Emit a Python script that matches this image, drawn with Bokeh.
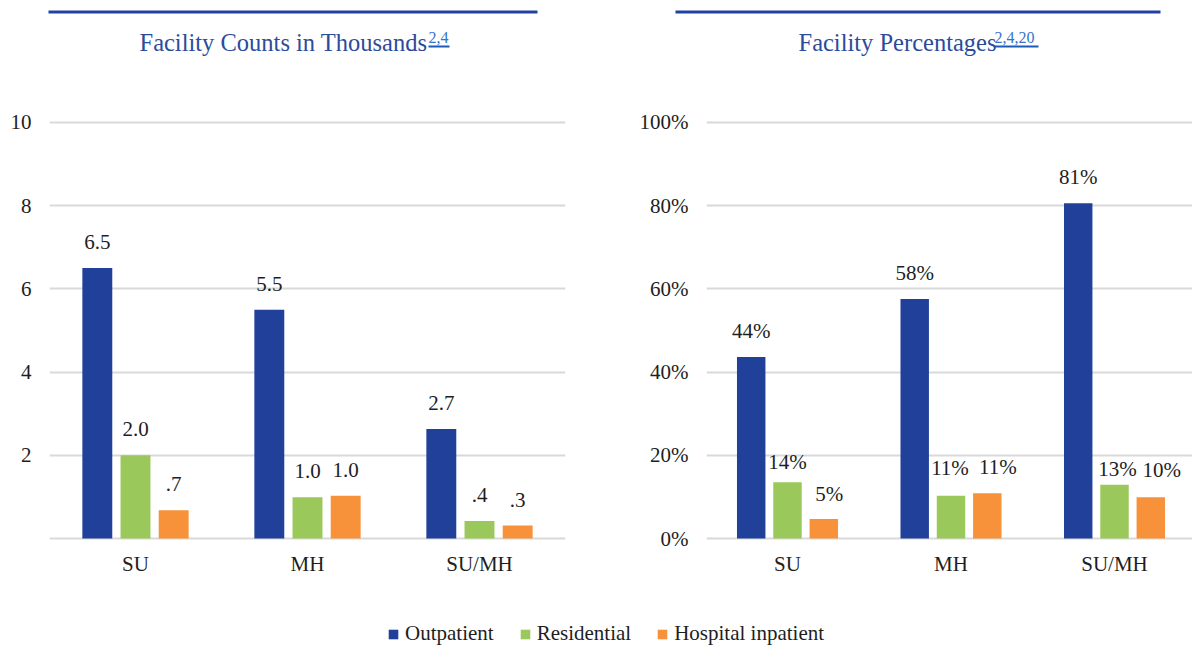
from bokeh.plotting import figure
from bokeh.models import ColumnDataSource, Range1d, FixedTicker, Label, BoxAnnotation
from bokeh.layouts import column, row
from bokeh.transform import dodge
from bokeh.core.properties import value
from bokeh.embed import file_html
from bokeh.resources import INLINE

# ---------------- data ----------------
categories = ["SU", "MH", "SU/MH"]
series_names = ["Outpatient", "Residential", "Hospital inpatient"]

count_outpatient = [6.5, 5.5, 2.63]
count_residential = [2.0, 0.99, 0.42]
count_hospital = [0.68, 1.03, 0.31]
count_labels_out = ["6.5", "5.5", "2.7"]
count_labels_res = ["2.0", "1.0", ".4"]
count_labels_hosp = [".7", "1.0", ".3"]

pct_outpatient = [43.6, 57.6, 80.6]
pct_residential = [13.5, 10.3, 12.9]
pct_hospital = [4.7, 10.9, 9.9]
pct_labels_out = ["44%", "58%", "81%"]
pct_labels_res = ["14%", "11%", "13%"]
pct_labels_hosp = ["5%", "11%", "10%"]

count_ticks = [0, 2, 4, 6, 8, 10]
count_tick_labels = ["", "2", "4", "6", "8", "10"]
pct_ticks = [0, 20, 40, 60, 80, 100]
pct_tick_labels = ["0%", "20%", "40%", "60%", "80%", "100%"]

titles = ["Facility Counts in Thousands", "Facility Percentages"]
title_refs = ["2,4", "2,4,20"]

# ---------------- styles ----------------
COLORS = ["#20409A", "#9BC85A", "#F7923A"]
FONT = "Liberation Serif"
TXT = "#1E1E1E"
TITLE_C = "#2B4B9B"
SUP_C = "#3573CC"
LINE_C = "#2142A0"
GRID_C = "#D9D9D9"
PITCH = 0.222
BAR_W = 0.174

# data-label offsets in pixels (y: negative = up from bar top; x: nudges)
G = -26
count_yoff = [[G] * 3, [G] * 3, [G] * 3]
count_xoff = [[0] * 3, [0] * 3, [0] * 3]
pct_yoff = [[G] * 3, [-20.5, -27.5, -16], [-25.2, -26.2, -27.5]]
pct_xoff = [[0] * 3, [0, -1, 3], [5.5, 10.5, 11]]


def make_chart(vals, labels, yoffs, xoffs, ticks, tick_labels, xr, yr, width, mbl, mbr):
    p = figure(width=width, height=550, x_range=xr, y_range=yr,
               output_backend="svg", toolbar_location=None,
               min_border_left=mbl, min_border_right=mbr,
               min_border_top=48, min_border_bottom=70,
               background_fill_color="white", border_fill_color="white",
               outline_line_color=None)
    idx = list(range(len(categories)))
    data = {"x": idx}
    for k in range(3):
        data[f"v{k}"] = vals[k]
        data[f"l{k}"] = labels[k]
        data[f"oy{k}"] = yoffs[k]
        data[f"ox{k}"] = xoffs[k]
    src = ColumnDataSource(data)
    for k in range(3):
        dx = (k - 1) * PITCH
        p.vbar(x=dodge("x", dx), top=f"v{k}", bottom=0, width=BAR_W, source=src,
               fill_color=COLORS[k], line_color=None)
        p.text(x=dodge("x", dx), y=f"v{k}", text=f"l{k}",
               x_offset=f"ox{k}", y_offset=f"oy{k}", source=src,
               text_align="center", text_baseline="alphabetic",
               text_font=value(FONT), text_font_size="21px", text_color=TXT)

    p.xgrid.visible = False
    p.ygrid.grid_line_color = GRID_C
    p.ygrid.grid_line_width = 2
    p.ygrid.ticker = FixedTicker(ticks=ticks)

    p.xaxis.ticker = FixedTicker(ticks=idx)
    p.xaxis.major_label_overrides = {i: c for i, c in zip(idx, categories)}
    p.yaxis.ticker = FixedTicker(ticks=ticks)
    p.yaxis.major_label_overrides = {t: l for t, l in zip(ticks, tick_labels)}
    for ax in (p.xaxis, p.yaxis):
        ax.axis_line_color = None
        ax.major_tick_line_color = None
        ax.minor_tick_line_color = None
        ax.major_tick_out = 0
        ax.major_tick_in = 0
        ax.major_label_text_font = FONT
        ax.major_label_text_font_size = "21px"
        ax.major_label_text_color = TXT
    p.xaxis.major_label_standoff = 9
    p.yaxis.major_label_standoff = 18
    return p, src


p1, src_counts = make_chart([count_outpatient, count_residential, count_hospital],
                            [count_labels_out, count_labels_res, count_labels_hosp],
                            count_yoff, count_xoff, count_ticks, count_tick_labels,
                            Range1d(-0.5, 2.5), Range1d(-0.096, 10.288), 612, 49, 47)

p2, src_pct = make_chart([pct_outpatient, pct_residential, pct_hospital],
                         [pct_labels_out, pct_labels_res, pct_labels_hosp],
                         pct_yoff, pct_xoff, pct_ticks, pct_tick_labels,
                         Range1d(-0.4954, 2.477), Range1d(-0.96, 102.88), 580, 94, 0)

# ---------------- header strip (rules + titles) ----------------
p0 = figure(width=1192, height=62, output_backend="svg", toolbar_location=None,
            x_axis_location=None, y_axis_location=None, min_border=0,
            outline_line_color=None, x_range=Range1d(0, 1), y_range=Range1d(0, 1),
            background_fill_color="white", border_fill_color="white")
p0.grid.visible = False


def box(l, r, b, t, color):
    return BoxAnnotation(left=l, right=r, bottom=b, top=t,
                         left_units="screen", right_units="screen",
                         bottom_units="screen", top_units="screen",
                         fill_color=color, fill_alpha=1, line_color=None)


header_geom = [
    # rule (left,right), title x, ref x, underline (left,right)
    ((48, 537), 139, 428, (428, 449)),
    ((675, 1160), 798, 994, (994, 1038)),
]
for (rule, tx, sx, ul), t, s in zip(header_geom, titles, title_refs):
    p0.add_layout(box(rule[0], rule[1], 49, 52, LINE_C))
    p0.add_layout(Label(x=tx, y=20, x_units="screen", y_units="screen", text=t,
                        text_font=FONT, text_font_size="24.5px", text_color=TITLE_C,
                        text_align="left", text_baseline="alphabetic"))
    p0.add_layout(Label(x=sx, y=25, x_units="screen", y_units="screen", text=s,
                        text_font=FONT, text_font_size="16px", text_color=SUP_C,
                        text_align="left", text_baseline="alphabetic"))
    p0.add_layout(box(ul[0], ul[1], 15, 17, "#1F5AB8"))

# ---------------- legend strip ----------------
p3 = figure(width=1192, height=34, output_backend="svg", toolbar_location=None,
            x_axis_location=None, y_axis_location=None, min_border=0,
            outline_line_color=None, x_range=Range1d(0, 1), y_range=Range1d(0, 1),
            background_fill_color="white", border_fill_color="white")
p3.grid.visible = False
for k, (name, c) in enumerate(zip(series_names, COLORS)):
    p3.vbar(x="x", top=f"v{k}", width=0.1, source=src_counts, fill_color=c,
            line_color=None, legend_label=name, visible=False)
lg = p3.legend[0]
lg.orientation = "horizontal"
lg.location = (387, 0)
lg.glyph_width = 12
lg.glyph_height = 12
lg.label_standoff = 6
lg.spacing = 25
lg.padding = 0
lg.margin = 0
lg.border_line_color = None
lg.background_fill_alpha = 0
lg.label_text_font = FONT
lg.label_text_font_size = "21px"
lg.label_text_color = TXT

layout = column(p0, row(p1, p2), p3)
open("out.html", "w").write(file_html(layout, INLINE))
